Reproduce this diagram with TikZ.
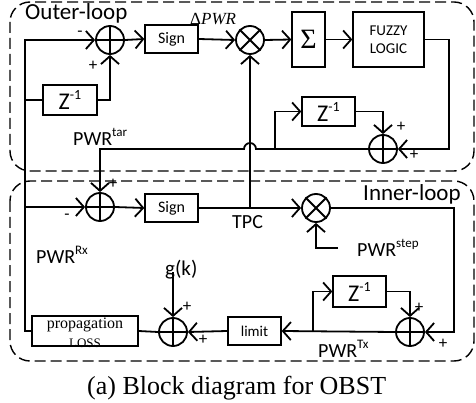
\documentclass[tikz,border=0pt]{standalone}
\usepackage{fontspec}
\setmainfont{Carlito}
\newfontfamily\tnr{Liberation Serif}
\usetikzlibrary{arrows.meta}
\newcommand\fs[1]{\fontsize{#1}{#1}\selectfont}
\newcommand\hi[3]{\raisebox{#1}{\fs{#2}#3}}
\begin{document}
\begin{tikzpicture}[x=1pt,y=1pt,
  wire/.style={line width=1.8pt},
  arr/.style={wire,-{Straight Barb[length=8pt,width=18pt]}},
  blk/.style={draw,line width=1.3pt,inner sep=0pt,align=center},
  junc/.style={circle,draw,line width=1.8pt,minimum size=28pt,inner sep=0pt},
  loopbox/.style={draw,line width=1.4pt,dash pattern=on 11pt off 5pt,rounded corners=20pt},
  lbl/.style={inner sep=0pt,anchor=base west},
  pm/.style={inner sep=0pt,font=\fs{17}}]
\useasboundingbox (0,0) rectangle (476,-403);
% loop frames
\draw[loopbox] (10,-2) rectangle (474,-171);
\draw[loopbox] (10,-181) rectangle (474,-361);
\node[lbl,font=\fs{23}] (outl) at (25,-20) {Outer-loop};
\node[lbl,font=\fs{23}] (innl) at (363,-201) {Inner-loop};
% junctions
\foreach \n/\p in {s1/{110,-40},s3/{383,-149},s2/{100,-207},s4/{410,-332},s5/{173,-332}}{
  \node[junc] (\n) at (\p) {};
  \draw[wire] (\n.north)--(\n.south) (\n.west)--(\n.east);
}
\foreach \n/\p in {m1/{250,-40},m2/{316,-208}}{
  \node[junc] (\n) at (\p) {};
  \draw[wire] (\n.north west)--(\n.south east) (\n.north east)--(\n.south west);
}
% blocks
\node[blk,minimum width=53pt,minimum height=28pt,font=\fs{16}] (sign1) at (171.5,-39) {Sign};
\node[blk,minimum width=54pt,minimum height=30pt,font=\fs{24}] (z1) at (70,-100) {Z\hi{10pt}{14}{-1}};
\node[blk,minimum width=33pt,minimum height=55pt,font=\tnr\fs{28}] (sig) at (308.5,-39.5) {Σ};
\node[blk,minimum width=71pt,minimum height=55pt,font=\fs{15}] (fuz) at (388.5,-39.5) {FUZZY\\[3pt]LOGIC};
\node[blk,minimum width=53pt,minimum height=29pt,font=\fs{24}] (z3) at (328.5,-111.5) {Z\hi{10pt}{14}{-1}};
\node[blk,minimum width=53pt,minimum height=28pt,font=\fs{16}] (sign2) at (171.5,-208) {Sign};
\node[blk,minimum width=53pt,minimum height=31pt,font=\fs{24}] (z4) at (359.5,-291.5) {Z\hi{10pt}{14}{-1}};
\node[blk,minimum width=53pt,minimum height=28pt,font=\fs{15}] (lim) at (254.5,-331) {limit};
\node[blk,minimum width=106pt,minimum height=30pt] (prop) at (85,-331) {};
\node[inner sep=0pt,anchor=base,font=\tnr\fs{16}] (propt) at (85,-328) {propagation};
\node[inner sep=0pt,anchor=base,font=\tnr\fs{13}] (losst) at (85,-347) {LOSS};
% coordinates
\coordinate (lc) at (25,-331);
\coordinate (lt) at (25,-40);
\coordinate (rc1) at (449,-40);
\coordinate (rc2) at (454,-208);
\coordinate (jr) at (256,-149);
\coordinate (pt) at (100,-149);
\coordinate (b3) at (275,-149);
\coordinate (tpcj) at (250,-208);
\coordinate (stp) at (338,-248);
\coordinate (b4) at (313,-332);
\coordinate (gk) at (173,-272);
% outer loop wiring
\draw[arr] (prop.west) -- (lc) -- (lt) -- (s1.west);
\draw[wire] (z1.west -| lt) -- (z1.west);
\draw[arr] (z1.east) -| (s1.south);
\draw[arr] (s1.east) -- (sign1.west);
\draw[arr] (sign1.east) -- (m1.west);
\draw[arr] (m1.east) -- (sig.west);
\draw[arr] (sig.east) -- (fuz.west);
\draw[arr] (fuz.east) -- (fuz.east -| rc1) |- (s3.east);
\draw[arr] (z3.east) -| (s3.north);
\draw[arr] (b3) |- (z3.west);
\draw[arr] (s3.west) -- (jr) arc[start angle=0,end angle=180,radius=6] -- (pt) -- (s2.north);
\draw[arr] (tpcj) -- (m1.south);
% inner loop wiring
\draw[arr] (s2.west -| lt) -- (s2.west);
\draw[arr] (s2.east) -- (sign2.west);
\draw[arr] (sign2.east) -- (m2.west);
\draw[arr] (stp) -| (m2.south);
\draw[arr] (m2.east) -- (rc2) |- (s4.east);
\draw[arr] (z4.east) -| (s4.north);
\draw[arr] (s4.west) -- (lim.east);
\draw[arr] (b4) |- (z4.west);
\draw[arr] (lim.west) -- (s5.east);
\draw[arr] (gk) -- (s5.north);
\draw[wire] (s5.west) -- (prop.east);
% signs
\node[pm] (p1a) at (80,-34) {-};
\node[pm] (p1b) at (93,-66) {+};
\node[pm] (p3a) at (401,-127) {+};
\node[pm] (p3b) at (414,-155) {+};
\node[pm] (p2a) at (113,-184) {+};
\node[pm] (p2b) at (67,-217) {-};
\node[pm] (p4a) at (419,-308) {+};
\node[pm] (p4b) at (443,-344) {+};
\node[pm] (p5a) at (187,-307) {+};
\node[pm] (p5b) at (203,-340) {+};
% labels
\node[lbl,font=\tnr\fs{17}] (dpwr) at (190,-25) {Δ\textit{PWR}};
\node[lbl,font=\fs{20}] (tar) at (73,-146) {PWR\hi{9pt}{13}{tar}};
\node[lbl,font=\fs{20}] (tpc) at (232,-229) {TPC};
\node[lbl,font=\fs{20}] (rx) at (36,-263) {PWR\hi{9pt}{13}{Rx}};
\node[lbl,font=\fs{21}] (gkl) at (165,-275) {g(k)};
\node[lbl,font=\fs{20}] (stepl) at (357,-256) {PWR\hi{9pt}{13}{step}};
\node[lbl,font=\fs{20}] (txl) at (318,-357) {PWR\hi{9pt}{13}{Tx}};
\node[lbl,font=\tnr\fs{26}] (cap) at (87,-394) {(a) Block diagram for OBST};
\end{tikzpicture}
\end{document}
